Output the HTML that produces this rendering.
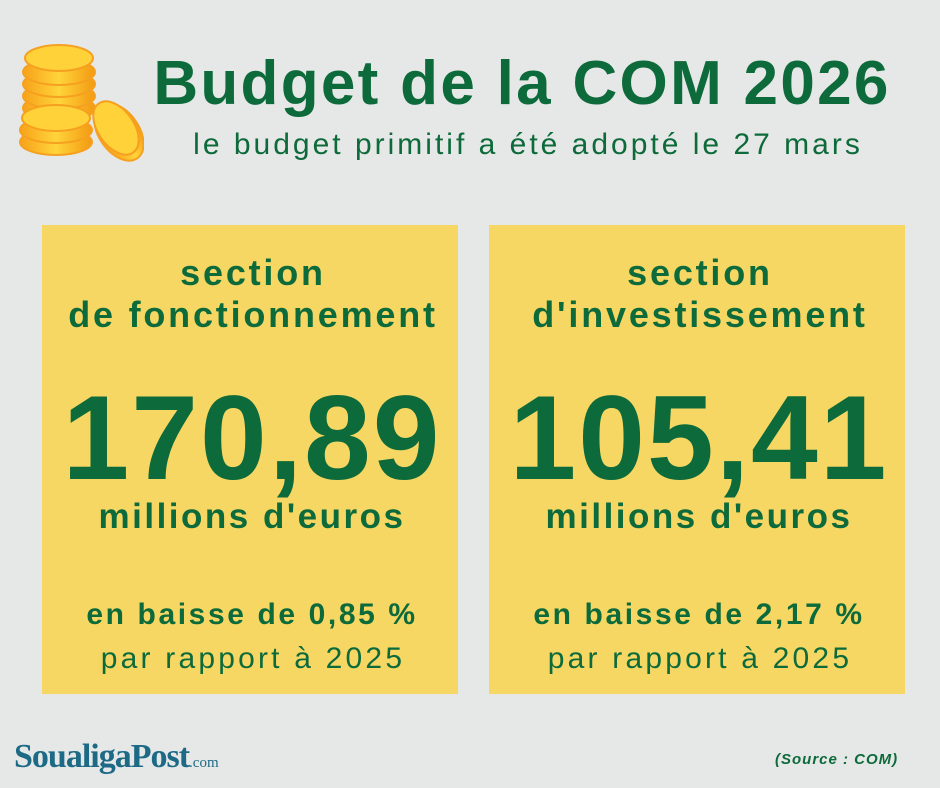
<!DOCTYPE html>
<html><head><meta charset="utf-8"><style>
body{margin:0;width:940px;height:788px;background:#e6e8e7;font-family:"Liberation Sans",sans-serif;color:#0d6a3a;position:relative;overflow:hidden}
.t{position:absolute;white-space:nowrap;text-align:center}
.box{position:absolute;top:225px;width:416px;height:469px;background:#f6d764}
.box .t{left:0;width:416px}
</style></head><body>
<svg style="position:absolute;left:14px;top:30px" width="130" height="135" viewBox="0 0 130 135">
<defs><linearGradient id="g" x1="0" x2="1"><stop offset="0" stop-color="#f7a21a"/><stop offset=".5" stop-color="#ffd43a"/><stop offset="1" stop-color="#f39a12"/></linearGradient></defs>
<g stroke="#f6a020" stroke-width="2">
<ellipse cx="45" cy="78" rx="36" ry="13" fill="url(#g)"/>
<ellipse cx="45" cy="66" rx="36" ry="13" fill="url(#g)"/>
<ellipse cx="45" cy="54" rx="36" ry="13" fill="url(#g)"/>
<ellipse cx="45" cy="42" rx="36" ry="13" fill="url(#g)"/>
<ellipse cx="45" cy="28" rx="34" ry="13" fill="#ffd23a"/>
<ellipse cx="42" cy="112" rx="36" ry="13" fill="url(#g)"/>
<ellipse cx="42" cy="100" rx="36" ry="13" fill="url(#g)"/>
<ellipse cx="42" cy="88" rx="34" ry="13" fill="#ffd23a"/>
<ellipse cx="105" cy="102" rx="20" ry="32" transform="rotate(-35 105 102)" fill="url(#g)"/>
<ellipse cx="102" cy="98" rx="18" ry="30" transform="rotate(-35 102 98)" fill="#ffd23a"/>
</g></svg>
<div class="t" style="left:150px;top:48px;font-size:62px;font-weight:bold;width:740px;letter-spacing:2.3px;padding-left:2px">Budget de la COM 2026</div>
<div class="t" style="left:150px;top:128px;font-size:30px;width:750px;letter-spacing:3px;padding-left:3px">le budget primitif a été adopté le 27 mars</div>
<div class="box" style="left:42px">
<div class="t" style="top:27px;font-size:36px;font-weight:bold;line-height:42px;letter-spacing:2.8px;padding-left:3px">section<br>de fonctionnement</div>
<div class="t" style="top:148px;font-size:120px;font-weight:bold;letter-spacing:2px;padding-left:2px;line-height:130px">170,89</div>
<div class="t" style="top:272px;font-size:35px;font-weight:bold;letter-spacing:2.5px;padding-left:2px">millions d'euros</div>
<div class="t" style="top:373px;font-size:30px;font-weight:bold;letter-spacing:2.6px;padding-left:2px">en baisse de 0,85 %</div>
<div class="t" style="top:417px;font-size:30px;letter-spacing:3.2px;padding-left:3px">par rapport à 2025</div>
</div>
<div class="box" style="left:489px">
<div class="t" style="top:27px;font-size:36px;font-weight:bold;line-height:42px;letter-spacing:2.8px;padding-left:3px">section<br>d'investissement</div>
<div class="t" style="top:148px;font-size:120px;font-weight:bold;letter-spacing:2px;padding-left:2px;line-height:130px">105,41</div>
<div class="t" style="top:272px;font-size:35px;font-weight:bold;letter-spacing:2.5px;padding-left:2px">millions d'euros</div>
<div class="t" style="top:373px;font-size:30px;font-weight:bold;letter-spacing:2.6px;padding-left:2px">en baisse de 2,17 %</div>
<div class="t" style="top:417px;font-size:30px;letter-spacing:3.2px;padding-left:3px">par rapport à 2025</div>
</div>
<div class="t" style="left:14px;top:738px;font-family:'Liberation Serif',serif;font-weight:bold;font-size:34px;color:#1d6a86;text-align:left;letter-spacing:-1px">SoualigaPost<span style="font-size:15px;font-weight:normal;letter-spacing:0">.com</span></div>
<div class="t" style="left:775px;top:751px;font-size:15px;font-weight:bold;font-style:italic;text-align:left;letter-spacing:1px">(Source : COM)</div>
</body></html>
